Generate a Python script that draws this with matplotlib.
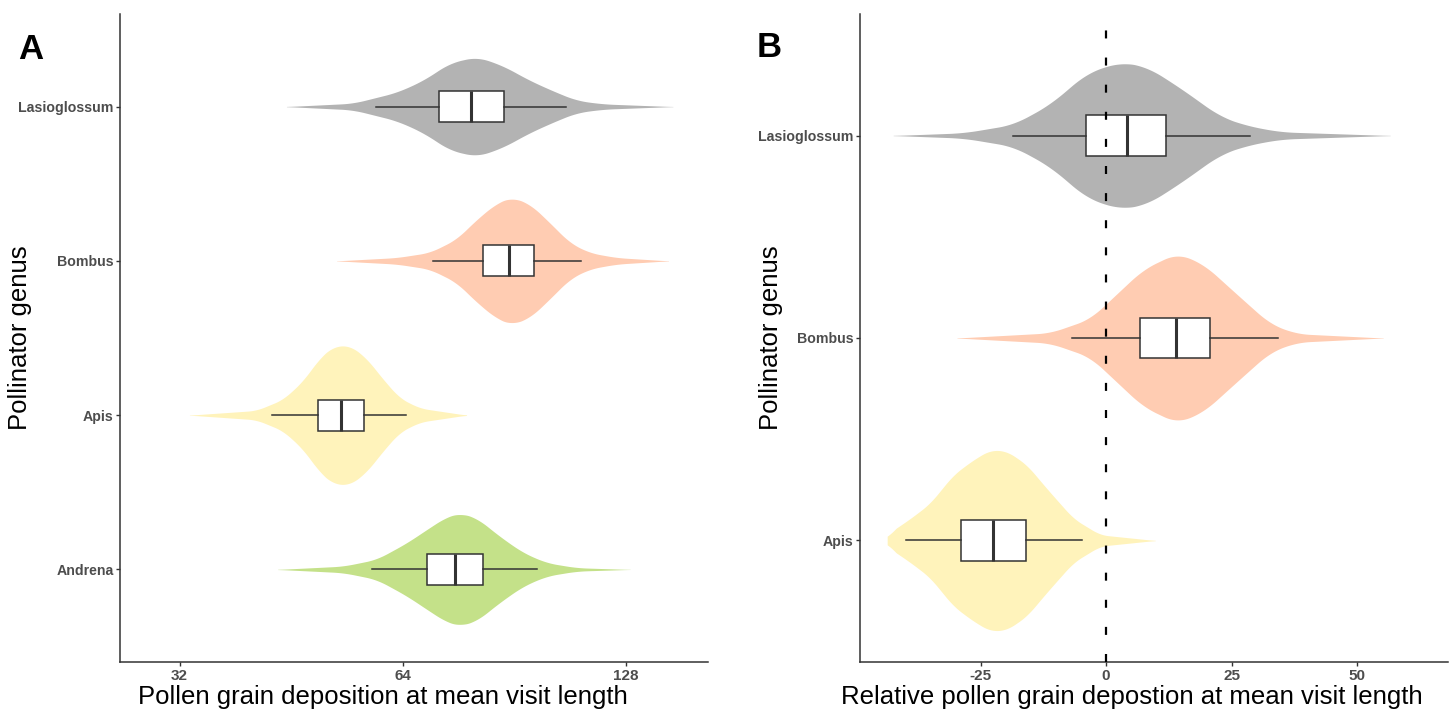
import matplotlib.pyplot as plt
import numpy as np

plt.rcParams['font.family'] = ['Liberation Sans', 'DejaVu Sans']

# ---- panel A : absolute deposition (log2 axis) ----
genera_a = ["Andrena", "Apis", "Bombus", "Lasioglossum"]   # bottom -> top
colors_a = ["#C4E189", "#FFF3BB", "#FFCCB2", "#B3B3B3"]

# box stats: whisker low, q1, median, q3, whisker high
whislo_a = [58.1, 42.6, 70.2, 58.8]
q1_a = [69.0, 49.2, 82.1, 71.6]
med_a = [75.3, 52.8, 89.1, 79.2]
q3_a = [82.1, 56.7, 96.1, 87.6]
whishi_a = [97.1, 64.6, 111.3, 106.1]

# violin outlines: value and half width (category units)
viol_x_a = [
    [43.4, 53.2, 59.0, 64.8, 68.9, 73.3, 76.4, 80.5, 86.5, 93.0, 100.0, 109.8, 129.6],
    [33.0, 40.6, 44.1, 46.9, 49.4, 51.5, 54.3, 57.2, 60.2, 63.4, 67.5, 78.0],
    [52.1, 62.8, 69.6, 75.6, 80.5, 85.6, 89.7, 95.0, 101.1, 107.5, 114.4, 124.3, 146.0],
    [44.6, 54.8, 62.8, 68.1, 74.1, 80.6, 87.3, 95.0, 103.3, 109.9, 119.2, 148.0],
]
viol_w_a = [
    [0.0, 0.021, 0.065, 0.172, 0.258, 0.342, 0.366, 0.334, 0.213, 0.108, 0.043, 0.011, 0.0],
    [0.0, 0.030, 0.101, 0.219, 0.368, 0.445, 0.452, 0.368, 0.232, 0.110, 0.045, 0.0],
    [0.0, 0.021, 0.054, 0.140, 0.269, 0.374, 0.413, 0.368, 0.245, 0.116, 0.052, 0.021, 0.0],
    [0.0, 0.021, 0.092, 0.168, 0.284, 0.323, 0.265, 0.168, 0.090, 0.039, 0.017, 0.0],
]
ticks_a = [32, 64, 128]

# ---- panel B : relative deposition ----
genera_b = ["Apis", "Bombus", "Lasioglossum"]
colors_b = ["#FFF3BB", "#FFCCB2", "#B3B3B3"]

whislo_b = [-39.8, -6.8, -18.6]
q1_b = [-28.9, 6.8, -4.0]
med_b = [-22.5, 13.9, 4.1]
q3_b = [-15.9, 20.6, 12.0]
whishi_b = [-4.8, 34.3, 28.7]

viol_x_b = [
    [-43.6, -43.4, -39.0, -35.1, -30.4, -26.4, -23.1, -19.8, -15.8, -11.8, -6.5, -1.2, 9.8],
    [-29.7, -11.2, -3.2, 2.1, 7.4, 14.1, 19.4, 26.0, 32.7, 38.0, 55.2],
    [-42.4, -28.4, -18.5, -11.2, -3.8, 2.8, 8.1, 14.7, 22.7, 28.0, 34.7, 56.6],
]
viol_w_b = [
    [0.0, 0.034, 0.108, 0.182, 0.325, 0.399, 0.447, 0.442, 0.374, 0.256, 0.108, 0.028, 0.0],
    [0.0, 0.025, 0.094, 0.217, 0.340, 0.419, 0.365, 0.217, 0.069, 0.021, 0.0],
    [0.0, 0.013, 0.054, 0.153, 0.310, 0.363, 0.340, 0.236, 0.094, 0.049, 0.018, 0.0],
]
ticks_b = [-25, 0, 25, 50]

GREY = "#4D4D4D"
LINE = "#333333"


def draw_violins(ax, xs, ws, colors, log=False):
    for i, (vx, vw, col) in enumerate(zip(xs, ws, colors)):
        pos = i + 1
        vx = np.asarray(vx, float)
        t = np.log2(vx) if log else vx
        grid = np.linspace(t[0], t[-1], 400)
        w = np.interp(grid, t, vw)
        k = np.ones(25) / 25
        w = np.convolve(np.pad(w, 12, mode='edge'), k, mode='valid')
        gx = 2 ** grid if log else grid
        ax.fill_between(gx, pos - w, pos + w, color=col, lw=0, zorder=1)


def draw_boxes(ax, lo, q1, med, q3, hi):
    stats = [dict(whislo=a, q1=b, med=c, q3=d, whishi=e)
             for a, b, c, d, e in zip(lo, q1, med, q3, hi)]
    ax.bxp(stats, positions=range(1, len(stats) + 1), widths=0.2,
           orientation='horizontal', showfliers=False, showcaps=False,
           patch_artist=True,
           boxprops=dict(facecolor='white', edgecolor=LINE, linewidth=1.1),
           medianprops=dict(color=LINE, linewidth=2.2),
           whiskerprops=dict(color=LINE, linewidth=1.1),
           zorder=3)


def style(ax, labels, xlabel, xlab_x, ylab_x):
    ax.set_yticks(range(1, len(labels) + 1))
    ax.set_yticklabels(labels, fontsize=10.2, fontweight='bold', color=GREY)
    ax.set_ylim(0.4, len(labels) + 0.6)
    for s in ['top', 'right']:
        ax.spines[s].set_visible(False)
    for s in ['left', 'bottom']:
        ax.spines[s].set_color(LINE)
        ax.spines[s].set_linewidth(1.1)
    ax.tick_params(axis='both', length=3, width=1.0, color=LINE)
    ax.tick_params(axis='y', pad=1.5)
    ax.tick_params(axis='x', labelsize=11, labelcolor=GREY, pad=2)
    for lab in ax.get_xticklabels():
        lab.set_fontweight('bold')
    ax.set_xlabel(xlabel, fontsize=18.5, color='black')
    ax.set_ylabel("Pollinator genus", fontsize=18.5, color='black')
    ax.xaxis.set_label_coords(xlab_x, -0.036)
    ax.yaxis.set_label_coords(ylab_x, 0.5)


fig = plt.figure(figsize=(14.56, 7.18), dpi=100)
ax1 = fig.add_axes([0.0824, 0.078, 0.4038, 0.9025])
ax2 = fig.add_axes([0.5907, 0.078, 0.4038, 0.9025])

# panel A
ax1.set_xscale('log', base=2)
draw_violins(ax1, viol_x_a, viol_w_a, colors_a, log=True)
draw_boxes(ax1, whislo_a, q1_a, med_a, q3_a, whishi_a)
ax1.set_xlim(26.6, 165)
ax1.set_xticks(ticks_a)
ax1.set_xticklabels([str(t) for t in ticks_a])
ax1.xaxis.set_minor_locator(plt.NullLocator())
style(ax1, genera_a, "Pollen grain deposition at mean visit length", 0.447, -0.149)

# panel B
draw_violins(ax2, viol_x_b, viol_w_b, colors_b)
draw_boxes(ax2, whislo_b, q1_b, med_b, q3_b, whishi_b)
ax2.axvline(0, color='black', lw=1.6, ls=(0, (3.6, 8.6)), zorder=4)
ax2.set_xlim(-49, 68.1)
ax2.set_xticks(ticks_b)
ax2.set_xticklabels([str(t) for t in ticks_b])
style(ax2, genera_b, "Relative pollen grain depostion at mean visit length", 0.463, -0.131)

fig.text(18 / 1456, 1 - 59 / 718, "A", fontsize=25, fontweight='bold')
fig.text(757 / 1456, 1 - 57 / 718, "B", fontsize=25, fontweight='bold')

fig.savefig("out.png", dpi=100)
